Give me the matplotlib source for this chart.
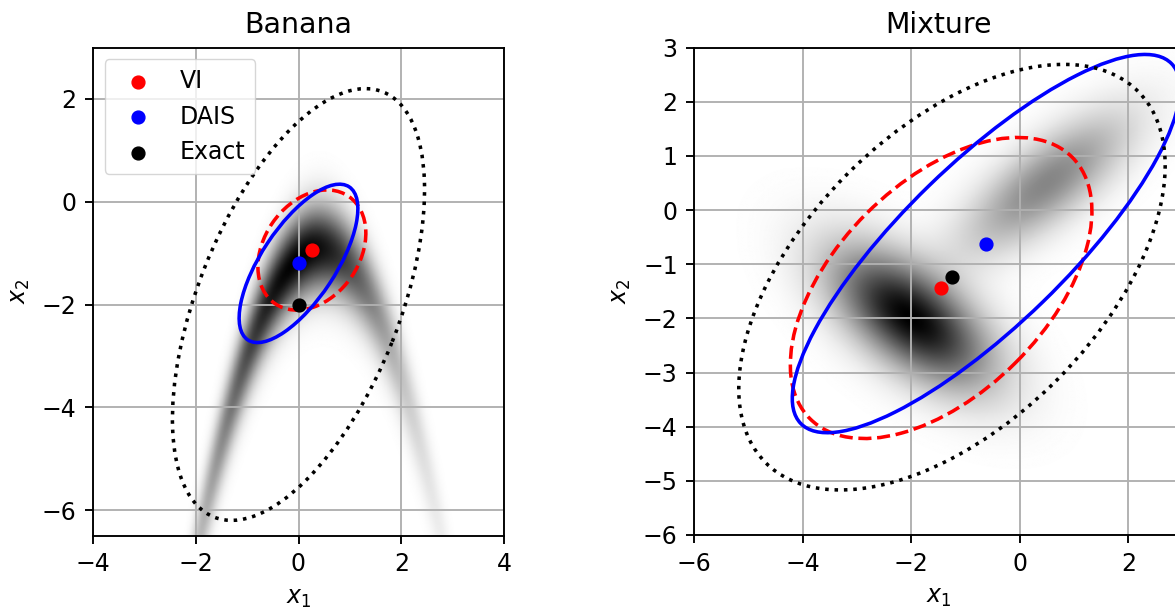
import numpy as np
import matplotlib
matplotlib.use("Agg")
import matplotlib.pyplot as plt
from matplotlib.patches import Ellipse
from matplotlib.colors import PowerNorm

# ---------------- data ----------------
methods = ["VI", "DAIS", "Exact"]
method_colors = ["red", "blue", "black"]
method_styles = ["--", "-", ":"]

# Banana panel
banana_means_x = [0.26, 0.0, 0.0]
banana_means_y = [-0.94, -1.2, -2.0]
banana_ell_width = [2.53, 3.57, 8.9]
banana_ell_height = [1.86, 1.44, 3.92]
banana_ell_angle = [55.6, 56.5, 68.4]
# banana density: x1 ~ N(0, s1), x2 | x1 ~ N(c - a*x1^2 + b*x1, s2)
banana_s1 = 1.0
banana_c, banana_a, banana_b, banana_s2 = -1.1, 1.0, 0.85, 0.48

# Mixture panel
mixture_means_x = [-1.45, -0.62, -1.25]
mixture_means_y = [-1.44, -0.62, -1.24]
mixture_ell_width = [6.83, 9.53, 9.7]
mixture_ell_height = [3.89, 3.0, 5.42]
mixture_ell_angle = [45.0, 44.2, 45.0]
mix_weights = [0.7, 0.3]
mix_centers_x = [-2.0, 0.5]
mix_centers_y = [-2.0, 0.5]
mix_sd_major = [1.15, 1.25]
mix_sd_minor = [0.57, 0.47]
mix_angle = [-38.0, 38.0]

banana_xticks = [-4, -2, 0, 2, 4]
banana_yticks = [-6, -4, -2, 0, 2]
mixture_xticks = [-6, -4, -2, 0, 2]
mixture_yticks = [-6, -5, -4, -3, -2, -1, 0, 1, 2, 3]

# ---------------- style ----------------
k = 1.7
plt.rcParams.update({
    "font.family": ["DejaVu Sans"],
    "font.size": 10 * k,
    "lines.linewidth": 1.5 * k,
    "axes.linewidth": 0.8 * k,
    "grid.linewidth": 0.8 * k,
    "xtick.major.size": 3.5 * k,
    "ytick.major.size": 3.5 * k,
    "xtick.major.width": 0.8 * k,
    "ytick.major.width": 0.8 * k,
    "xtick.major.pad": 3.5 * k,
    "ytick.major.pad": 3.5 * k,
    "axes.titlepad": 6.0 * k,
    "axes.labelpad": 4.0 * k,
})

fig = plt.figure(figsize=(11.75, 6.08), dpi=100)
W, H = 1175, 608
ax1 = fig.add_axes([92.7 / W, (H - 535.8) / H, 411.6 / W, 488.3 / H])
ax2 = fig.add_axes([694.2 / W, (H - 535.0) / H, 488.4 / W, 487.5 / H])


def banana_density(X1, X2):
    ridge = banana_c - banana_a * X1 ** 2 + banana_b * X1
    return np.exp(-0.5 * (X1 / banana_s1) ** 2 - 0.5 * ((X2 - ridge) / banana_s2) ** 2)


def mixture_density(X1, X2):
    Z = np.zeros_like(X1)
    for w, cx, cy, sa, sb, ang in zip(mix_weights, mix_centers_x, mix_centers_y,
                                      mix_sd_major, mix_sd_minor, mix_angle):
        t = np.deg2rad(ang)
        u = (X1 - cx) * np.cos(t) + (X2 - cy) * np.sin(t)
        v = -(X1 - cx) * np.sin(t) + (X2 - cy) * np.cos(t)
        Z += w / (2 * np.pi * sa * sb) * np.exp(-0.5 * (u / sa) ** 2 - 0.5 * (v / sb) ** 2)
    return Z


def panel(ax, xlim, ylim, dens, mx, my, ew, eh, ea, title, xticks, yticks, legend, gamma):
    gx = np.linspace(xlim[0], xlim[1], 500)
    gy = np.linspace(ylim[0], ylim[1], 500)
    X1, X2 = np.meshgrid(gx, gy)
    Z = dens(X1, X2)
    norm = PowerNorm(gamma=gamma, vmin=0, vmax=Z.max())
    ax.imshow(Z, extent=[xlim[0], xlim[1], ylim[0], ylim[1]], origin="lower",
              cmap="gray_r", norm=norm, aspect="auto",
              interpolation="bilinear", zorder=0)
    for i in range(3):
        ax.add_patch(Ellipse((mx[i], my[i]), ew[i], eh[i], angle=ea[i], fill=False,
                             edgecolor=method_colors[i], linestyle=method_styles[i],
                             linewidth=1.5 * k, zorder=3))
    for i in range(3):
        ax.scatter([mx[i]], [my[i]], s=85, color=method_colors[i], label=methods[i], zorder=4)
    ax.set_xlim(*xlim)
    ax.set_ylim(*ylim)
    ax.set_xticks(xticks)
    ax.set_yticks(yticks)
    ax.grid(True, color="#b0b0b0")
    ax.set_title(title)
    ax.set_xlabel("$x_1$")
    ax.set_ylabel("$x_2$")
    if legend:
        ax.legend(loc="upper left")


panel(ax1, (-4, 4), (-6.5, 3), banana_density, banana_means_x, banana_means_y,
      banana_ell_width, banana_ell_height, banana_ell_angle, "Banana",
      banana_xticks, banana_yticks, True, 0.7)
panel(ax2, (-6, 3), (-6, 3), mixture_density, mixture_means_x, mixture_means_y,
      mixture_ell_width, mixture_ell_height, mixture_ell_angle, "Mixture",
      mixture_xticks, mixture_yticks, False, 1.0)

fig.savefig("out.png", dpi=100)
